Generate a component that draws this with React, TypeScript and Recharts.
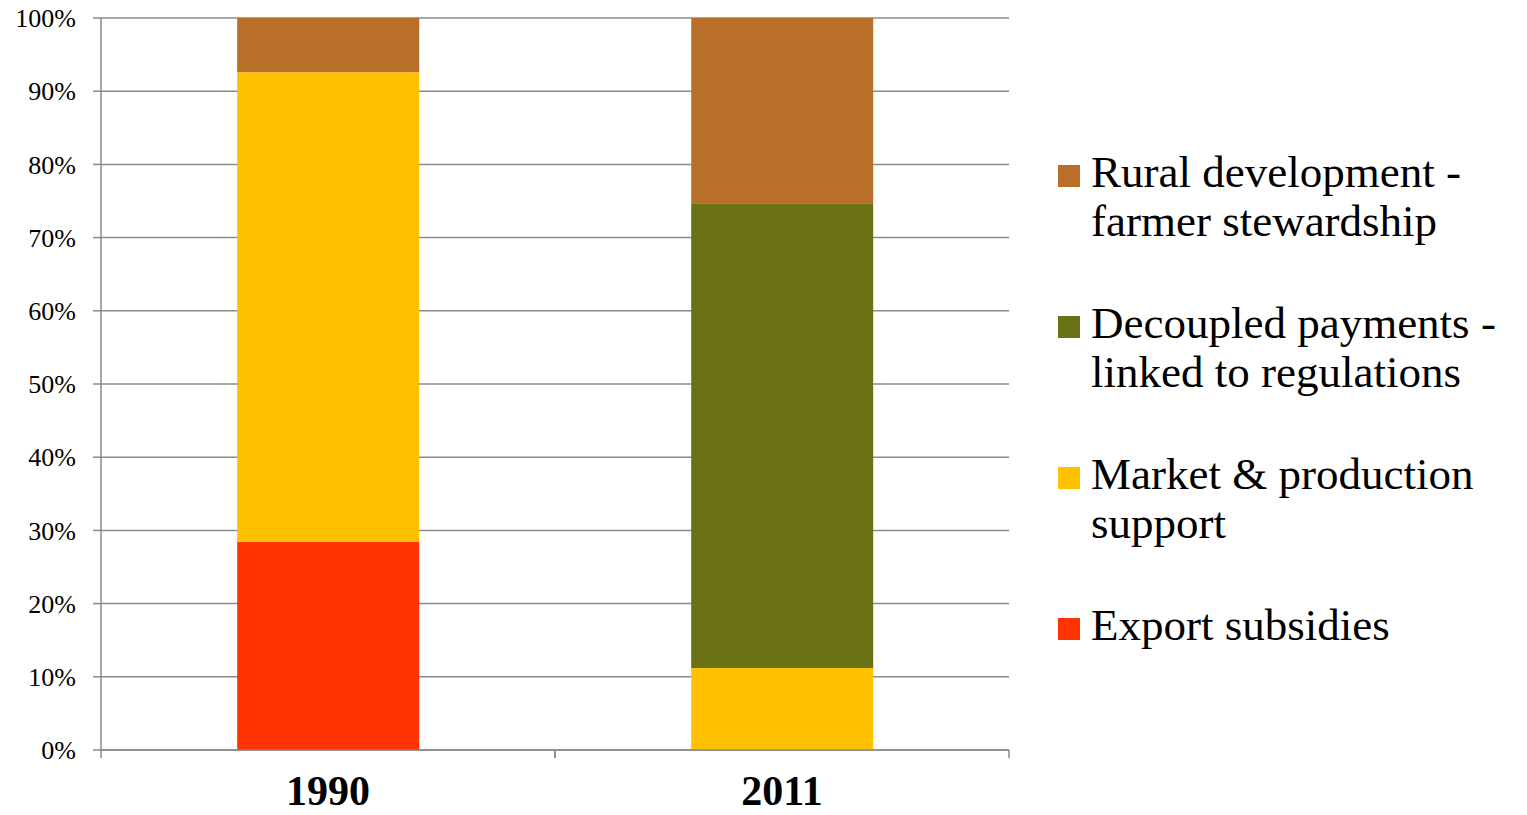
import * as React from 'react';
import { BarChart, Bar, XAxis, YAxis, CartesianGrid } from 'recharts';

// Share of farm support by type (%)
const years = ['1990', '2011'];
const exportSubsidies = [28.4, 0];
const marketSupport = [64.2, 11.2];
const decoupledPayments = [0, 63.5];
const ruralDevelopment = [7.4, 25.3];
const yTicks = [0, 10, 20, 30, 40, 50, 60, 70, 80, 90, 100];

const series = [
  { key: 'exportSubsidies', lines: ['Export subsidies'], color: '#FF3300' },
  { key: 'marketSupport', lines: ['Market & production', 'support'], color: '#FFC000' },
  { key: 'decoupledPayments', lines: ['Decoupled payments -', 'linked to regulations'], color: '#6B7115' },
  { key: 'ruralDevelopment', lines: ['Rural development -', 'farmer stewardship'], color: '#B87028' }
];

const data = years.map((year, i) => ({
  year,
  exportSubsidies: exportSubsidies[i],
  marketSupport: marketSupport[i],
  decoupledPayments: decoupledPayments[i],
  ruralDevelopment: ruralDevelopment[i]
}));

const FONT = '"Liberation Serif", "DejaVu Serif", serif';
const AXIS_GREY = '#8a8a8a';

// category label plus tick marks on the band edges, like the original
const YearTick = (props: any) => {
  const { x, y, payload } = props;
  const half = payload && payload.offset ? payload.offset : 227;
  return (
    <g>
      <line x1={x - half} y1={y} x2={x - half} y2={y + 8} stroke={AXIS_GREY} strokeWidth={1.5} />
      <line x1={x + half} y1={y} x2={x + half} y2={y + 8} stroke={AXIS_GREY} strokeWidth={1.5} />
      <text x={x} y={y + 55} textAnchor="middle" fontFamily={FONT} fontWeight="bold" fontSize={42} fill="#000">
        {payload.value}
      </text>
    </g>
  );
};

const SideLegend = () => (
  <div style={{ position: 'absolute', left: 1058, top: 148, fontFamily: FONT, fontSize: 45, color: '#000' }}>
    {[...series].reverse().map(s => (
      <div key={s.key} style={{ display: 'flex', alignItems: 'flex-start', height: 151 }}>
        <div style={{ width: 22, height: 22, background: s.color, marginTop: 17, marginRight: 11, flexShrink: 0 }} />
        <div style={{ lineHeight: '49px' }}>
          {s.lines.map(l => (
            <div key={l} style={{ whiteSpace: 'nowrap' }}>{l}</div>
          ))}
        </div>
      </div>
    ))}
  </div>
);

export default function App() {
  return (
    <div style={{ position: 'absolute', left: 0, top: 0, width: 1527, height: 815, background: '#fff' }}>
      <BarChart
        width={1527}
        height={815}
        data={data}
        margin={{ top: 18, right: 518, bottom: 0, left: 0 }}
        barCategoryGap="30%"
      >
        <CartesianGrid horizontal vertical={false} stroke={AXIS_GREY} strokeWidth={1.5} />
        <XAxis
          dataKey="year"
          height={65}
          axisLine={{ stroke: AXIS_GREY, strokeWidth: 1.5 }}
          tickLine={false}
          tickSize={0}
          tickMargin={0}
          tick={<YearTick />}
          interval={0}
        />
        <YAxis
          width={101}
          domain={[0, 100]}
          ticks={yTicks}
          interval={0}
          tickFormatter={(v: number) => `${v}%`}
          axisLine={{ stroke: AXIS_GREY, strokeWidth: 1.5 }}
          tickLine={{ stroke: AXIS_GREY, strokeWidth: 1.5 }}
          tickSize={8}
          tickMargin={17}
          tick={{ fontFamily: FONT, fontSize: 26, fill: '#000' }}
        />
        {series.map(s => (
          <Bar key={s.key} dataKey={s.key} name={s.lines.join(' ')} stackId="a" fill={s.color} isAnimationActive={false} />
        ))}
      </BarChart>
      <SideLegend />
    </div>
  );
}
